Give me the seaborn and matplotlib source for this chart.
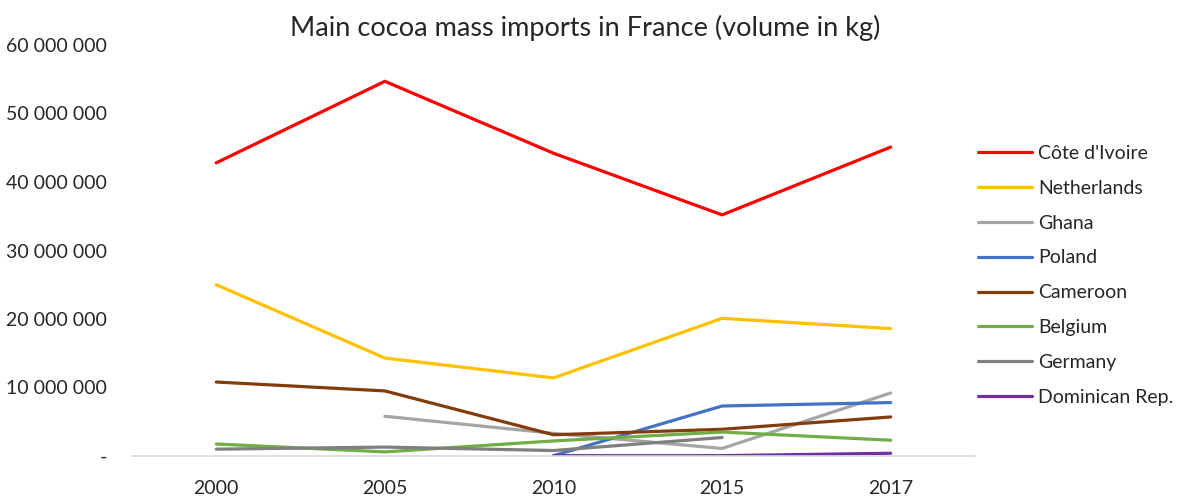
import matplotlib
matplotlib.use("Agg")
import matplotlib.pyplot as plt
import matplotlib.ticker as mticker
import numpy as np
import pandas as pd
import seaborn as sns

years = ["2000", "2005", "2010", "2015", "2017"]
countries = ["Côte d'Ivoire", "Netherlands", "Ghana", "Poland", "Cameroon",
             "Belgium", "Germany", "Dominican Rep."]

cote_divoire = [42_800_000, 54_700_000, 44_200_000, 35_200_000, 45_100_000]
netherlands = [25_000_000, 14_300_000, 11_400_000, 20_100_000, 18_600_000]
ghana = [np.nan, 5_800_000, 3_300_000, 1_100_000, 9_200_000]
poland = [np.nan, np.nan, 50_000, 7_300_000, 7_800_000]
cameroon = [10_800_000, 9_500_000, 3_100_000, 3_900_000, 5_700_000]
belgium = [1_750_000, 600_000, 2_200_000, 3_500_000, 2_300_000]
germany = [1_000_000, 1_300_000, 800_000, 2_700_000, np.nan]
dominican_rep = [np.nan, np.nan, 50_000, 50_000, 400_000]

series = [cote_divoire, netherlands, ghana, poland, cameroon, belgium, germany, dominican_rep]
colors = ["#FF0000", "#FFC000", "#A5A5A5", "#4472C4", "#843C0C",
          "#70AD47", "#7F7F7F", "#7030A0"]

rows = []
for name, vals in zip(countries, series):
    for i, v in enumerate(vals):
        if not np.isnan(v):
            rows.append({"pos": i, "value": v, "country": name})
df = pd.DataFrame(rows)

sns.set_style("white")
plt.rcParams["font.family"] = ["Lato", "DejaVu Sans"]

fig = plt.figure(figsize=(11.79, 4.97), dpi=100)
ax = fig.add_axes([132 / 1179, 1 - 456 / 497, (975 - 132) / 1179, (456 - 45) / 497])

sns.lineplot(data=df, x="pos", y="value", hue="country", hue_order=countries,
             palette=colors, linewidth=2.3, ax=ax, sort=True, estimator=None)

ax.set_xlim(-0.5, 4.5)
ax.set_ylim(0, 60_000_000)
ax.set_xticks(range(len(years)))
ax.set_xticklabels(years, fontsize=14)
ax.yaxis.set_major_locator(mticker.MultipleLocator(10_000_000))


def fmt(v, _):
    if v == 0:
        return "-"
    return f"{int(v):,}".replace(",", " ")


ax.yaxis.set_major_formatter(mticker.FuncFormatter(fmt))
ax.tick_params(axis="y", labelsize=14, length=0, pad=18)
ax.tick_params(axis="x", length=0, pad=17)
ax.set_xlabel("")
ax.set_ylabel("")
for side in ["top", "right", "left"]:
    ax.spines[side].set_visible(False)
ax.spines["bottom"].set_color("#D9D9D9")
ax.spines["bottom"].set_linewidth(1.2)

fig.suptitle("Main cocoa mass imports in France (volume in kg)", fontsize=19.5,
             y=1 - 28 / 497, va="center", x=585 / 1179)

leg = ax.legend(loc="upper left", bbox_to_anchor=(970 / 1179, 1 - 137 / 497),
                bbox_transform=fig.transFigure, frameon=False, fontsize=14,
                handlelength=2.8, labelspacing=0.92, handletextpad=0.3, borderaxespad=0)
for line in leg.get_lines():
    line.set_linewidth(2.3)

fig.savefig("out.png", dpi=100)
